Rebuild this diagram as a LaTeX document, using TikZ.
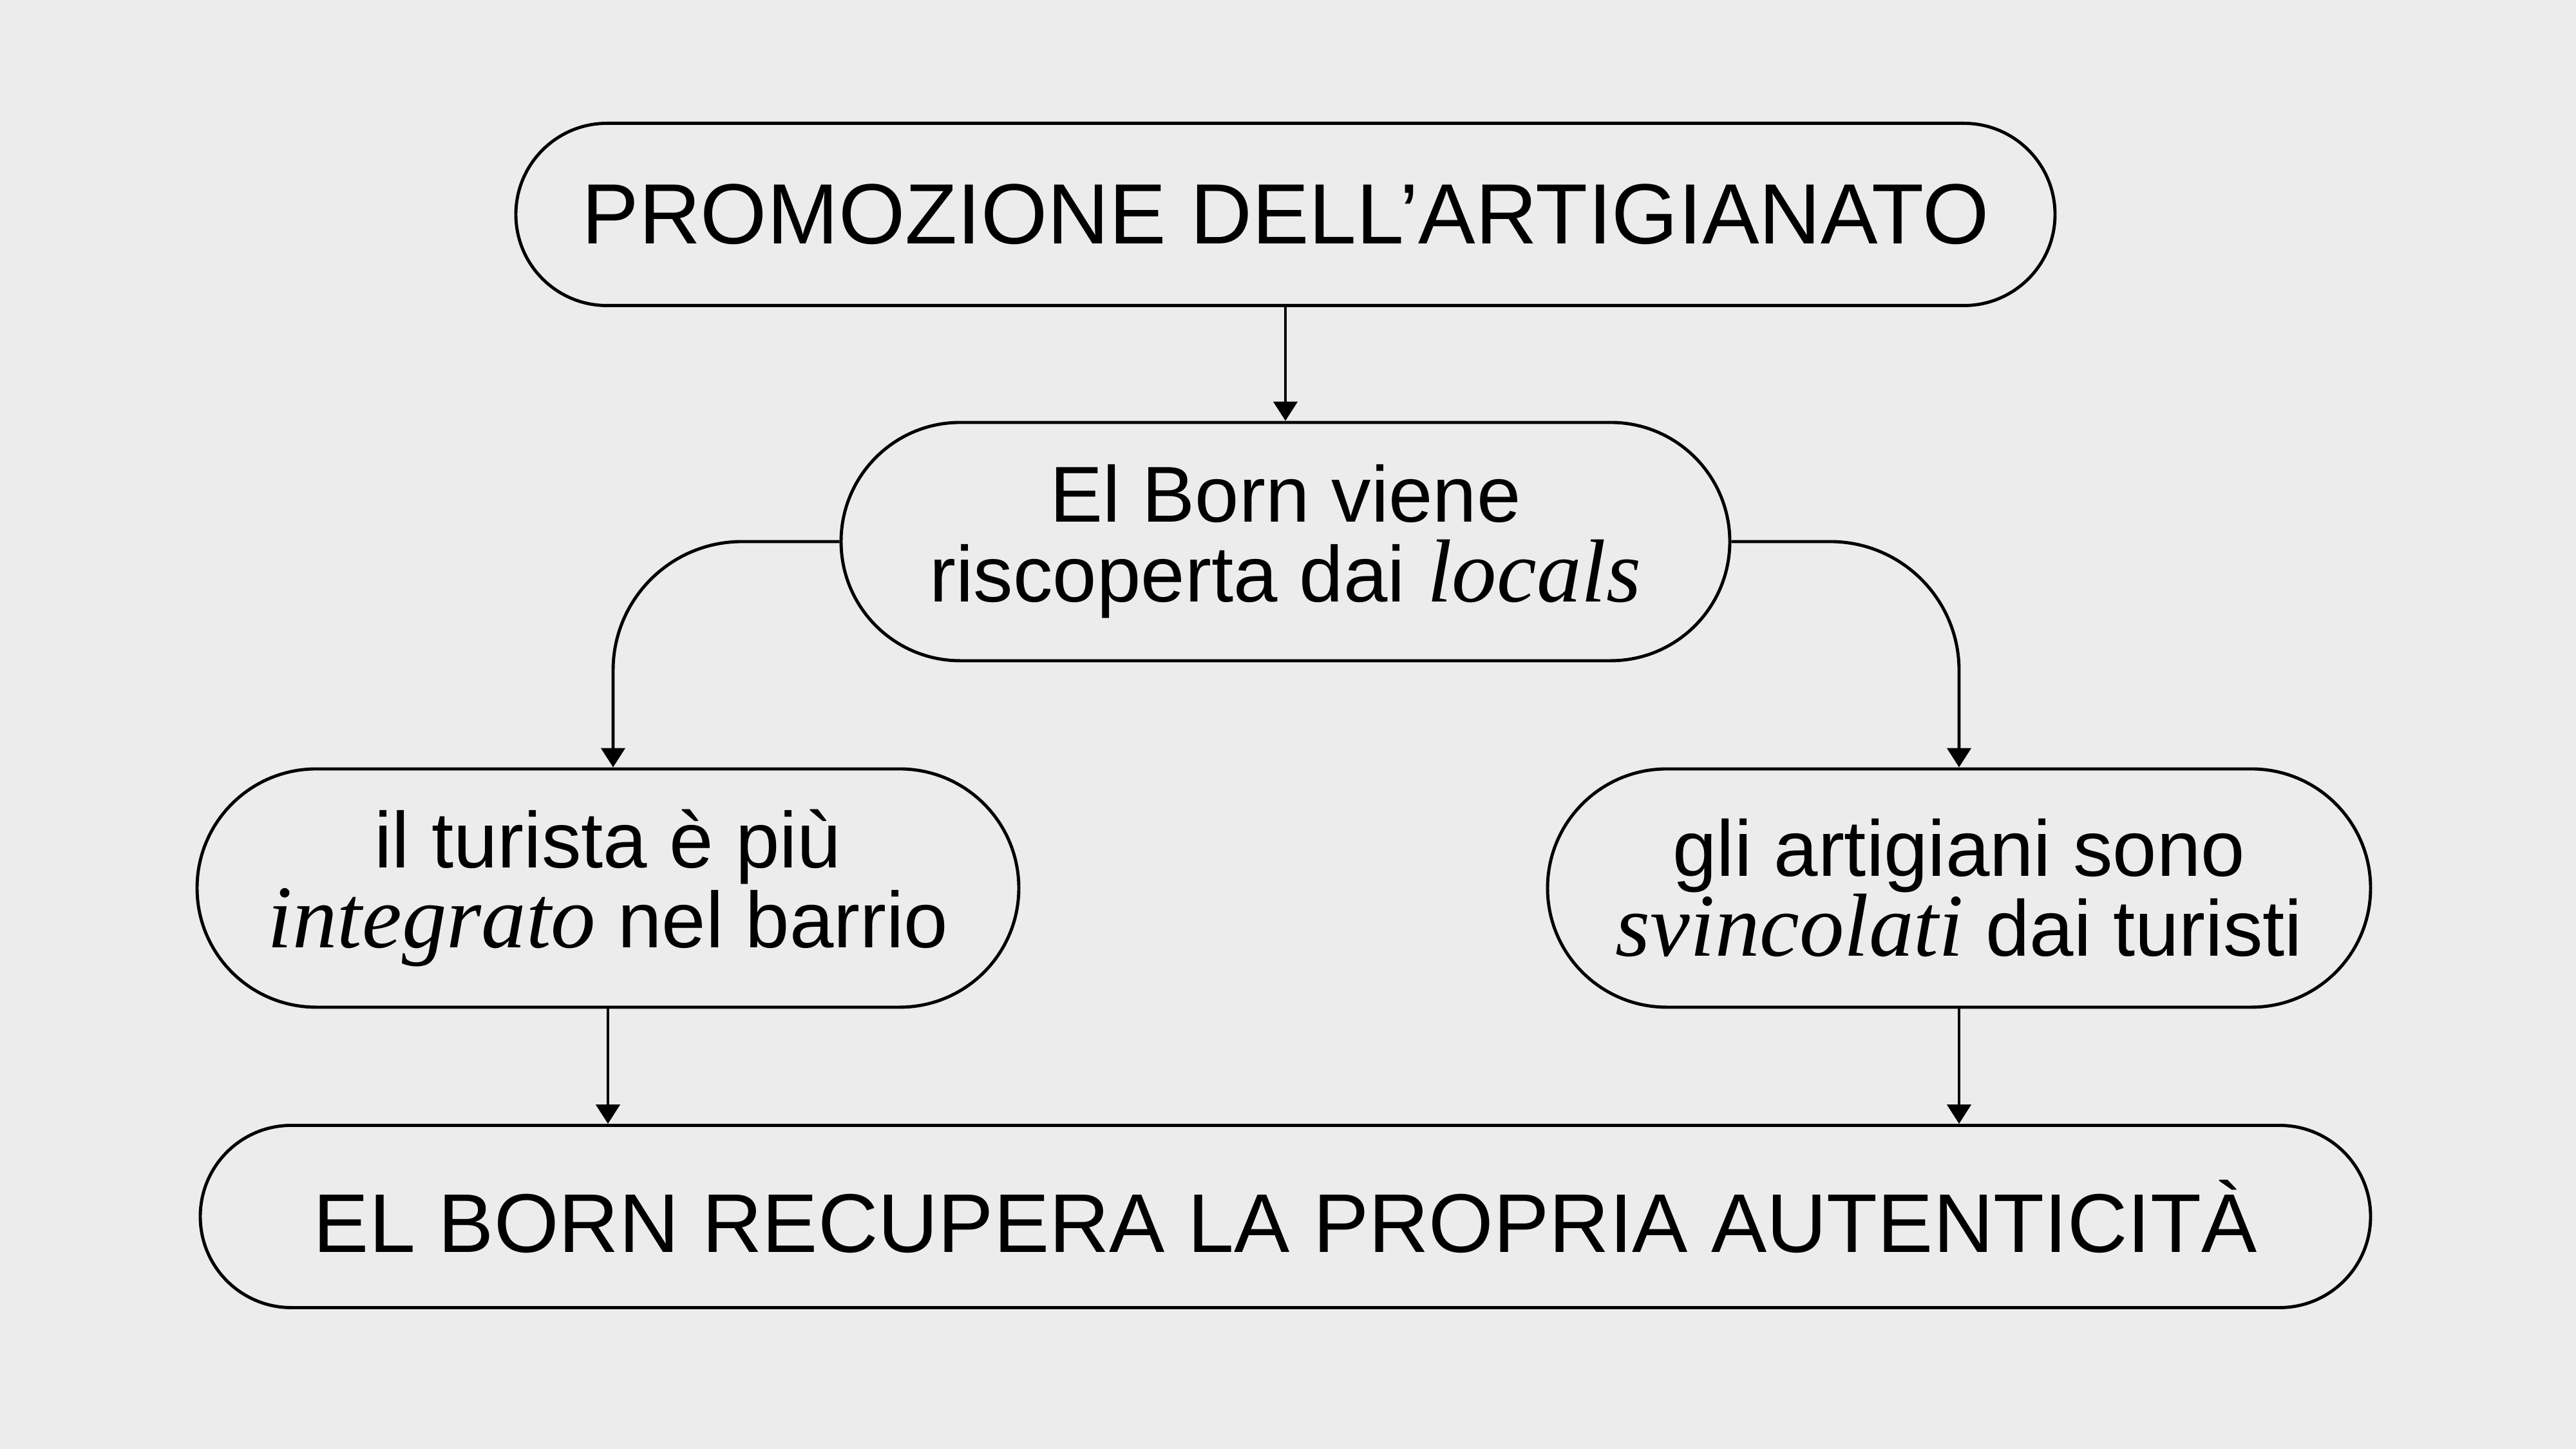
\documentclass[tikz,border=0pt]{standalone}
\usepackage{fontspec}
\setmainfont{Liberation Sans}
\newfontfamily\capfont{Liberation Serif}[Scale=1.13]
\usetikzlibrary{arrows.meta}
\definecolor{bg}{HTML}{ECECEC}
\newcommand{\emit}[1]{{\capfont\itshape #1}}
\begin{document}
\begin{tikzpicture}[
        line width=1.4pt,
        pill/.style={draw,rounded corners=1.415cm,minimum height=2.83cm,inner sep=0pt},
        pillbig/.style={draw,rounded corners=1.85cm,minimum height=3.7cm,inner sep=0pt,
            align=center,font=\fontsize{35}{35.3}\selectfont},
        arr/.style={-{Triangle[width=3.7mm,length=3mm]}}
    ]
        \fill[bg] (0,0) rectangle (40,22.5);
        \useasboundingbox (0,0) rectangle (40,22.5);
        \node (promo) at (19.96,19.17) [pill,minimum width=23.9cm,font=\fontsize{37.8}{40}\selectfont] {PROMOZIONE DELL’ARTIGIANATO};
        \node (born) at (19.96,14.09) [pillbig,minimum width=13.8cm] {El Born viene\\riscoperta dai \emit{locals}};
        \node (tur) at (9.44,8.71) [pillbig,minimum width=12.76cm] {il turista è più\\\emit{integrato} nel barrio};
        \node (art) at (30.42,8.71) [pillbig,minimum width=12.78cm] {gli artigiani sono\\\emit{svincolati} dai turisti};
        \node (auth) at (19.96,3.61) [pill,minimum width=33.7cm,font=\fontsize{36.8}{40}\selectfont] {EL BORN RECUPERA LA PROPRIA AUTENTICITÀ};
        \draw[arr] (promo.south) -- (born.north);
        \draw[arr,rounded corners=2cm] (born.west) -| ([xshift=0.08cm]tur.north);
        \draw[arr,rounded corners=2cm] (born.east) -| (art.north);
        \draw[arr] (tur.south) -- (tur.south |- auth.north);
        \draw[arr] (art.south) -- (art.south |- auth.north);
    \end{tikzpicture}
\end{document}
